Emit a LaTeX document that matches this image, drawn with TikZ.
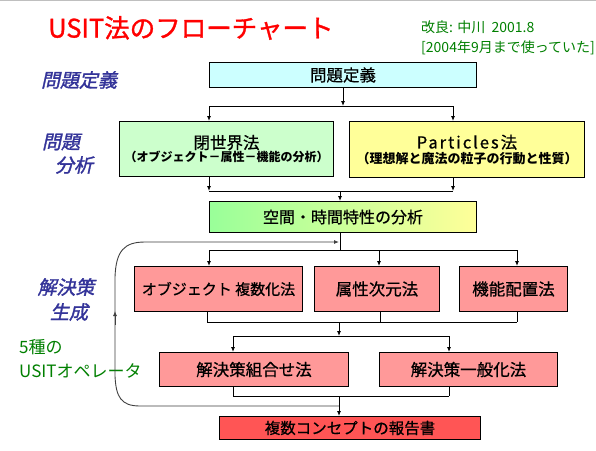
\documentclass[tikz,border=0pt]{standalone}
\usepackage{fontspec}
\setmainfont{Noto Sans CJK JP}
\newfontfamily\lblfont[FakeSlant=0.22,FakeBold=1.5]{Noto Sans CJK JP}
\newfontfamily\boxfont[FakeBold=0.7]{Noto Sans CJK JP}
\newfontfamily\titlefont[FakeBold=1.2]{Noto Sans CJK JP}
\usetikzlibrary{arrows.meta}
\definecolor{cyanbox}{HTML}{CCFFFF}
\definecolor{greenbox}{HTML}{CCFFCC}
\definecolor{yellowbox}{HTML}{FFFF99}
\definecolor{gradL}{HTML}{99FF99}
\definecolor{gradR}{HTML}{FFFF99}
\definecolor{pinkbox}{HTML}{FF9999}
\definecolor{redbox}{HTML}{FF5555}
\definecolor{lblblue}{HTML}{333399}
\definecolor{grn}{HTML}{008000}
\definecolor{titlered}{HTML}{FF0000}
\definecolor{loopgray}{HTML}{404040}
\newcommand\fsz[2]{\fontsize{#1}{#2}\selectfont}
\begin{document}
\begin{tikzpicture}[x=1pt,y=-1pt,
  box/.style={draw=black,line width=1pt,inner sep=0pt,anchor=north west,align=center},
  conn/.style={line width=0.9pt,draw=black},
  arr/.style={conn,-{Latex[length=5pt,width=4pt]}},
  lbl/.style={text=lblblue,font=\lblfont\fsz{19}{23},align=left},
  gtext/.style={text=grn,anchor=west,inner sep=0pt}
]
\useasboundingbox (0,0) rectangle (596,450);
\fill[white] (0,0) rectangle (596,450);
\draw[line width=1pt,draw=black!25] (0,0.5) -- (596,0.5);

% title and notes
\node[anchor=west,inner sep=0pt,text=titlered,font=\titlefont\fsz{25.5}{30}] (title) at (48,28) {USIT法のフローチャート};
\node[gtext,font=\fsz{14}{16}] (rev) at (421,27) {改良: 中川\ \ 2001.8};
\node[gtext,font=\fsz{14}{16}] (used) at (421,48) {[2004年9月まで使っていた]};

% side labels
\node[lbl] (l1) at (79,80) {問題定義};
\node[lbl] (l2a) at (61,142) {問題};
\node[lbl] (l2b) at (74,165) {分析};
\node[lbl] (l3a) at (66,287) {解決策};
\node[lbl] (l3b) at (69,312) {生成};
\node[gtext,font=\fsz{17}{20}] (g1) at (19,347) {5種の};
\node[gtext,font=\fsz{17}{20}] (g2) at (19,371) {USITオペレータ};

% boxes
\node[box,fill=cyanbox,minimum width=267pt,minimum height=25pt,font=\boxfont\fsz{16.5}{20}] (def) at (209,62) {問題定義};
\node[box,fill=greenbox,minimum width=214pt,minimum height=55pt] (cw) at (119,121)
  {{\boxfont\fsz{16.5}{22}閉世界法}\\[1pt]{\fsz{12}{15}\bfseries （オブジェクト－属性－機能の分析）}};
\node[box,fill=yellowbox,minimum width=235pt,minimum height=56pt] (pt) at (349,121)
  {{\boxfont\fsz{16.5}{22}\addfontfeature{LetterSpace=12}Particles法}\\[1pt]{\fsz{13}{15}\bfseries （理想解と魔法の粒子の行動と性質）}};
\node[box,left color=gradL,right color=gradR,minimum width=267pt,minimum height=31pt,font=\boxfont\fsz{16}{20}] (sp) at (209,201) {空間・時間特性の分析};
\node[box,fill=pinkbox,minimum width=168pt,minimum height=45pt,font=\boxfont\fsz{15}{20}] (ob) at (134,266) {オブジェクト 複数化法};
\node[box,fill=pinkbox,minimum width=125pt,minimum height=45pt,font=\boxfont\fsz{16.5}{20}] (at) at (314,266) {属性次元法};
\node[box,fill=pinkbox,minimum width=108pt,minimum height=45pt,font=\boxfont\fsz{16.5}{20}] (fn) at (459,266) {機能配置法};
\node[box,fill=pinkbox,minimum width=189pt,minimum height=34pt,font=\boxfont\fsz{16.5}{20}] (cb) at (159,352) {解決策組合せ法};
\node[box,fill=pinkbox,minimum width=178pt,minimum height=34pt,font=\boxfont\fsz{16.5}{20}] (gn) at (379,352) {解決策一般化法};
\node[box,fill=redbox,minimum width=261pt,minimum height=23pt,font=\boxfont\fsz{15.5}{20}] (rep) at (219,416) {複数コンセプトの報告書};

% def -> cw, pt
\coordinate (j1l) at (209,106);
\coordinate (j1r) at (453,106);
\draw[arr] (def.south) -- (def.south |- j1l);
\draw[conn] (j1l) -- (j1r);
\draw[arr] (j1l) -- (j1l |- cw.north);
\draw[arr] (j1r) -- (j1r |- pt.north);

% cw, pt -> sp
\coordinate (j2l) at (209,191);
\coordinate (j2r) at (453,191);
\coordinate (j2m) at (340,191);
\draw[arr] (j2l |- cw.south) -- (j2l);
\draw[arr] (j2r |- pt.south) -- (j2r);
\draw[conn] (j2l) -- (j2r);
\draw[arr] (j2m) -- (j2m |- sp.north);

% sp -> row 3
\coordinate (j3m) at (340,250);
\coordinate (j3l) at (209,250);
\coordinate (j3c) at (379,250);
\coordinate (j3r) at (517,250);
\draw[conn] (j3m |- sp.south) -- (j3m);
\draw[conn] (j3l) -- (j3r);
\draw[arr] (j3l) -- (j3l |- ob.north);
\draw[arr] (j3c) -- (j3c |- at.north);
\draw[arr] (j3r) -- (j3r |- fn.north);

% row 3 -> row 4
\coordinate (j4l) at (207,322);
\coordinate (j4c) at (380,322);
\coordinate (j4r) at (517,322);
\coordinate (j4m) at (339,322);
\draw[conn] (j4l |- ob.south) -- (j4l);
\draw[conn] (j4c |- at.south) -- (j4c);
\draw[conn] (j4r |- fn.south) -- (j4r);
\draw[conn] (j4l) -- (j4r);
\coordinate (j5m) at (339,336);
\coordinate (j5l) at (233,336);
\coordinate (j5r) at (449,336);
\draw[arr] (j4m) -- (j5m);
\draw[conn] (j5l) -- (j5r);
\draw[arr] (j5l) -- (j5l |- cb.north);
\draw[arr] (j5r) -- (j5r |- gn.north);

% row 4 -> report
\coordinate (j6l) at (233,396);
\coordinate (j6r) at (449,396);
\coordinate (j6m) at (339,396);
\draw[conn] (j6l |- cb.south) -- (j6l);
\draw[conn] (j6r |- gn.south) -- (j6r);
\draw[conn] (j6l) -- (j6r);
\draw[arr] (j6m) -- (j6m |- rep.north);

% feedback loop
\coordinate (lpS) at (339,406);
\coordinate (lpE) at (339,242);
\draw[line width=0.9pt,draw=loopgray,-{Latex[length=5pt,width=4pt]}]
  (lpS) -- (140,406) .. controls (121,406) and (116,397) .. (115,376)
  -- (115,277) .. controls (116,251) and (124,242) .. (145,242) -- (lpE);
\draw[line width=0.9pt,draw=loopgray,-{Latex[length=5pt,width=4pt]}] (115,325) -- (115,311);
\end{tikzpicture}
\end{document}
